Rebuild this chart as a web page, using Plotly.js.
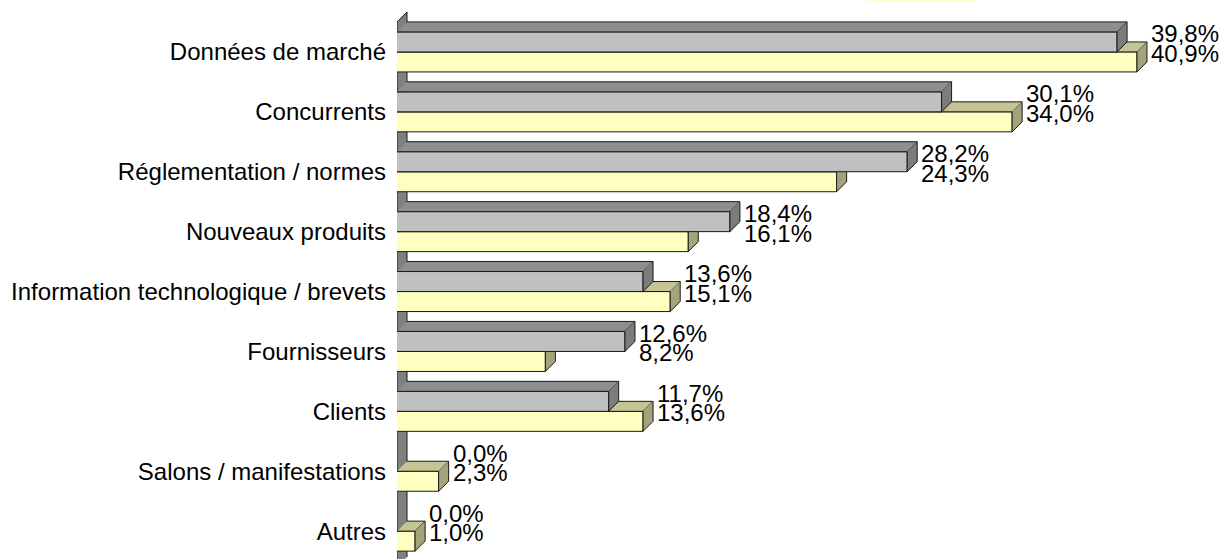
<!DOCTYPE html>
<html><head><meta charset="utf-8">
<script src="https://cdn.plot.ly/plotly-3.0.1.min.js"></script>
<style>html,body{margin:0;padding:0;background:#fff}#chart{width:1222px;height:559px}</style>
</head><body><div id="chart"></div>
<script>
const categories = ["Données de marché","Concurrents","Réglementation / normes","Nouveaux produits","Information technologique / brevets","Fournisseurs","Clients","Salons / manifestations","Autres"];
const seriesGrey = [39.8,30.1,28.2,18.4,13.6,12.6,11.7,0.0,0.0];
const seriesYellow = [40.9,34.0,24.3,16.1,15.1,8.2,13.6,2.3,1.0];

const DX = 0.553;   // depth in value units
const DY = -0.167;  // depth in category units (up)
const BW = 0.334;   // bar thickness
const FONT = 'Liberation Sans, Arial, sans-serif';

function fmt(v){return v.toFixed(1).replace('.', ',') + '%';}

function faces(vals, y0off){
  const front={x:[],y:[]}, top={x:[],y:[]}, right={x:[],y:[]};
  vals.forEach((v,i)=>{
    if(v<=0 && y0off<0) return;
    const yt=i+y0off, yb=yt+BW;
    front.x.push(0,v,v,0,null); front.y.push(yt,yt,yb,yb,null);
    top.x.push(0,v,v+DX,DX,null); top.y.push(yt,yt,yt+DY,yt+DY,null);
    right.x.push(v,v,v+DX,v+DX,null); right.y.push(yt,yb,yb+DY,yt+DY,null);
  });
  return {front,top,right};
}
function poly(d,fill){
  return {type:'scatter',mode:'lines',x:d.x,y:d.y,fill:'toself',fillcolor:fill,
    line:{color:'#1a1a1a',width:1},hoverinfo:'skip',showlegend:false,connectgaps:false};
}
const idx = categories.map((c,i)=>i);
const yf = faces(seriesYellow, 0);
const gf = faces(seriesGrey, -BW);
const wall = {x:[0,0,DX,DX],y:[8.6,-0.5,-0.5+DY,8.6+DY]};

const traces = [
  poly(wall,'#808080'),
  poly(yf.front,'#FFFFC0'), poly(yf.top,'#C4C494'), poly(yf.right,'#A4A47C'),
  poly(gf.front,'#C0C0C0'), poly(gf.top,'#8E8E8E'), poly(gf.right,'#7C7C7C')
];

const annotations=[];
idx.forEach(i=>{
  const xm=Math.max(seriesGrey[i],seriesYellow[i])+DX;
  annotations.push({x:xm,y:i,xref:'x',yref:'y',text:fmt(seriesGrey[i]),showarrow:false,
    xanchor:'left',yanchor:'middle',xshift:2,yshift:18,font:{family:FONT,size:24,color:'#000'}});
  annotations.push({x:xm,y:i,xref:'x',yref:'y',text:fmt(seriesYellow[i]),showarrow:false,
    xanchor:'left',yanchor:'middle',xshift:2,yshift:-1.5,font:{family:FONT,size:24,color:'#000'}});
});

const layout = {
  width:1222,height:559,
  margin:{l:397,r:0,t:10,b:0,pad:0},
  paper_bgcolor:'#fff',plot_bgcolor:'#fff',
  showlegend:false,
  font:{family:FONT,size:24,color:'#000'},
  xaxis:{range:[0,45.6],visible:false,fixedrange:true},
  yaxis:{range:[8.465,-0.7],tickvals:idx,ticktext:categories,showgrid:false,zeroline:false,
    showline:false,ticks:'',ticklabelstandoff:10,automargin:false,
    tickfont:{family:FONT,size:24,color:'#000'}},
  annotations:annotations,
  shapes:[{type:'rect',xref:'paper',yref:'paper',x0:0.570,x1:0.7006,y0:1.0146,y1:1.02,
    fillcolor:'#FFFFC8',line:{width:0}}]
};
Plotly.newPlot('chart',traces,layout,{staticPlot:true,displayModeBar:false});
</script></body></html>
